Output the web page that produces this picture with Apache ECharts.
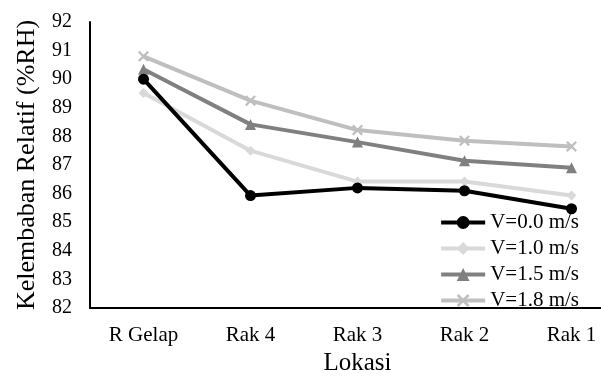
<!DOCTYPE html>
<html><head><meta charset="utf-8">
<script src="https://cdn.jsdelivr.net/npm/echarts@6/dist/echarts.min.js"></script>
<style>html,body{margin:0;padding:0;background:#fff}#c{width:601px;height:376px}</style>
</head><body><div id="c"></div>
<script>
const categories = ['R Gelap','Rak 4','Rak 3','Rak 2','Rak 1'];
const seriesNames = ['V=0.0 m/s','V=1.0 m/s','V=1.5 m/s','V=1.8 m/s'];
const v00 = [90.0, 85.93, 86.2, 86.1, 85.47];
const v10 = [89.52, 87.5, 86.42, 86.42, 85.93];
const v15 = [90.35, 88.42, 87.8, 87.15, 86.9];
const v18 = [90.8, 89.25, 88.22, 87.85, 87.65];
const yTicks = [82,83,84,85,86,87,88,89,90,91,92];

const colors = ['#000000','#d9d9d9','#808080','#bfbfbf'];
const xPath = 'path://M0,1.5 L1.5,0 L5,3.5 L8.5,0 L10,1.5 L6.5,5 L10,8.5 L8.5,10 L5,6.5 L1.5,10 L0,8.5 L3.5,5 Z';
const symbols = ['circle','diamond','triangle',xPath];
const sizes = [11,10,11,11];
const data = [v00,v10,v15,v18];
const font = 'Liberation Serif';

const chart = echarts.init(document.getElementById('c'));
chart.setOption({
  animation:false,
  backgroundColor:'#fff',
  textStyle:{fontFamily:font},
  grid:{left:90,right:-24,top:22,bottom:68,outerBoundsMode:'none',containLabel:false},
  legend:{
    orient:'vertical', right:17, bottom:60,
    itemWidth:44, itemHeight:16, itemGap:5,
    lineStyle:{width:4},
    textStyle:{fontFamily:font,fontSize:21,color:'#000'},
    data:seriesNames
  },
  xAxis:{
    type:'category', data:categories, boundaryGap:true,
    axisLine:{lineStyle:{color:'#000',width:2}},
    axisTick:{show:false},
    axisLabel:{fontFamily:font,fontSize:21,color:'#000',margin:17},
    name:'Lokasi', nameLocation:'middle', nameGap:42,
    nameTextStyle:{fontFamily:font,fontSize:25,color:'#000'}
  },
  yAxis:{
    type:'value', min:yTicks[0], max:yTicks[yTicks.length-1], interval:1,
    axisLine:{show:true,lineStyle:{color:'#000',width:2}},
    axisTick:{show:false},
    splitLine:{show:false},
    axisLabel:{fontFamily:font,fontSize:20,color:'#000',margin:18},
    name:'Kelembaban Relatif (%RH)', nameLocation:'middle', nameGap:50,
    nameTextStyle:{fontFamily:font,fontSize:26,color:'#000'}
  },
  series: seriesNames.map((n,i)=>({
    name:n, type:'line', data:data[i],
    symbol:symbols[i], symbolSize:sizes[i], showAllSymbol:true,
    lineStyle:{color:colors[i],width:4},
    itemStyle:{color:colors[i]},
    z: 10-i
  }))
});
</script></body></html>
